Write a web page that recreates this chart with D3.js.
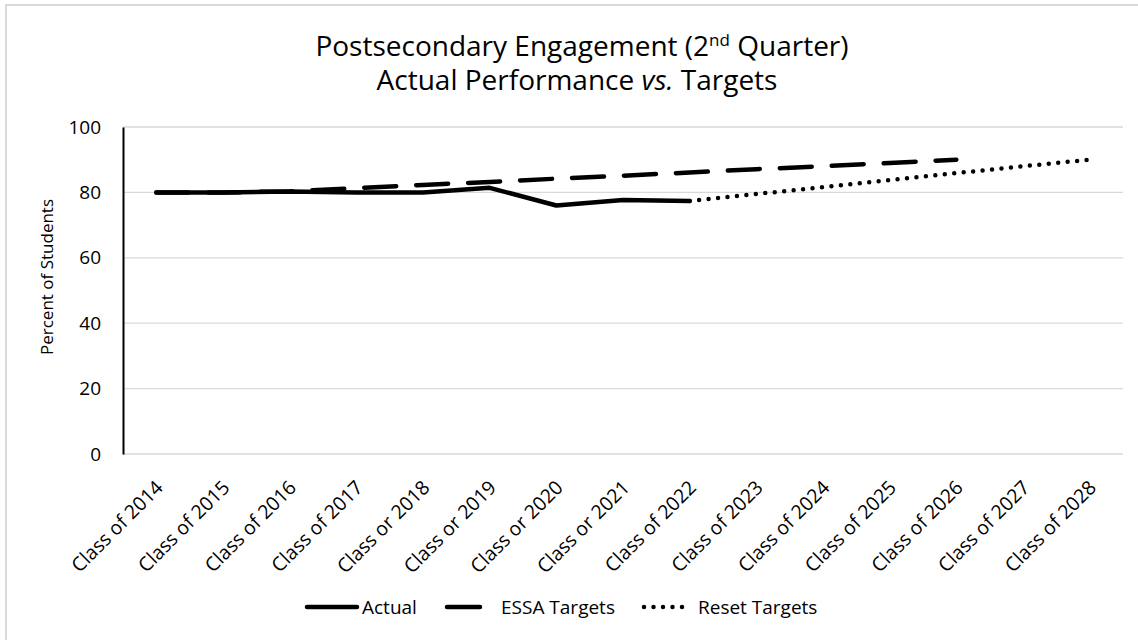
<!DOCTYPE html>
<html>
<head>
<meta charset="utf-8">
<script src="https://cdn.jsdelivr.net/npm/d3@7"></script>
<style>
  body { margin: 0; background: #fff; }
  svg, svg text { font-family: "Open Sans", "Noto Sans", sans-serif; }
</style>
</head>
<body>
<svg id="chart" width="1138" height="640"></svg>
<script>
// categories (labels kept as printed, including the "or" typos)
var classes = ["Class of 2014", "Class of 2015", "Class of 2016", "Class of 2017", "Class or 2018",
  "Class or 2019", "Class or 2020", "Class or 2021", "Class of 2022", "Class of 2023",
  "Class of 2024", "Class of 2025", "Class of 2026", "Class of 2027", "Class of 2028"];

var actual = [80.0, 80.0, 80.3, 80.0, 80.0, 81.4, 76.0, 77.7, 77.4];
var essaTargets = [80.0, 80.0, 80.3, 81.3, 82.3, 83.2, 84.2, 85.1, 86.1, 87.1, 88.0, 89.0, 90.0];
var resetTargets = [null, null, null, null, null, null, null, null, 77.4, 79.5, 81.6, 83.8, 85.9, 88.0, 90.0];
var yTicks = [0, 20, 40, 60, 80, 100];

var svg = d3.select("#chart");
var plotLeft = 123, plotRight = 1123, plotTop = 127, plotBottom = 454;

// chart border (only top/left visible in frame)
svg.append("rect").attr("x", 6).attr("y", 5).attr("width", 1150).attr("height", 650)
  .attr("fill", "none").attr("stroke", "#d9d9d9").attr("stroke-width", 2);

var x = d3.scaleBand().domain(classes).range([plotLeft, plotRight]);
var y = d3.scaleLinear().domain([0, 100]).range([plotBottom, plotTop]);

// gridlines
svg.append("g").selectAll("line").data(yTicks).enter().append("line")
  .attr("x1", plotLeft).attr("x2", plotRight)
  .attr("y1", function(d){ return y(d); }).attr("y2", function(d){ return y(d); })
  .attr("stroke", "#d9d9d9").attr("stroke-width", 1.3);

// y axis
var yAxis = svg.append("g").attr("transform", "translate(" + plotLeft + ",0)")
  .call(d3.axisLeft(y).tickValues(yTicks).tickSize(0).tickPadding(22));
yAxis.attr("font-family", null);
yAxis.select(".domain").attr("stroke", "#000").attr("stroke-width", 2);
yAxis.selectAll("text").attr("font-size", 19).attr("fill", "#000");

// x axis labels (rotated)
var xAxis = svg.append("g").attr("transform", "translate(0," + plotBottom + ")")
  .call(d3.axisBottom(x).tickSize(0).tickPadding(0));
xAxis.attr("font-family", null);
xAxis.select(".domain").remove();
xAxis.selectAll("text")
  .attr("font-size", 19.5).attr("fill", "#000")
  .attr("text-anchor", "end")
  .attr("transform", "translate(3,30) rotate(-45)")
  .attr("x", 0).attr("y", 0).attr("dy", "0.35em");

// y axis title
svg.append("text").attr("transform", "translate(53,277) rotate(-90)")
  .attr("text-anchor", "middle").attr("font-size", 17).attr("fill", "#000")
  .text("Percent of Students");

// title
var title = svg.append("text").attr("text-anchor", "middle").attr("font-size", 28).attr("fill", "#000");
var t1 = title.append("tspan").attr("x", 582).attr("y", 56);
t1.append("tspan").text("Postsecondary Engagement (2");
t1.append("tspan").attr("font-size", 17).attr("dy", -10).text("nd");
t1.append("tspan").attr("dy", 10).text(" Quarter)");
var t2 = title.append("tspan").attr("x", 577).attr("y", 90);
t2.append("tspan").text("Actual Performance ");
t2.append("tspan").attr("font-style", "italic").text("vs.");
t2.append("tspan").text(" Targets");

var line = d3.line()
  .defined(function(d){ return d != null; })
  .x(function(d, i){ return x(classes[i]) + x.bandwidth() / 2; })
  .y(function(d){ return y(d); });

var styles = {
  actual: { dash: null, width: 4.5 },
  essa: { dash: "32,20", width: 4.5 },
  reset: { dash: "0,9.5", width: 4.5 }
};

svg.append("path").datum(resetTargets).attr("d", line)
  .attr("fill", "none").attr("stroke", "#000").attr("stroke-width", styles.reset.width)
  .attr("stroke-linecap", "round").attr("stroke-dasharray", styles.reset.dash);
svg.append("path").datum(essaTargets).attr("d", line)
  .attr("fill", "none").attr("stroke", "#000").attr("stroke-width", styles.essa.width)
  .attr("stroke-linecap", "round").attr("stroke-dasharray", styles.essa.dash);
svg.append("path").datum(actual).attr("d", line)
  .attr("fill", "none").attr("stroke", "#000").attr("stroke-width", styles.actual.width)
  .attr("stroke-linecap", "round").attr("stroke-linejoin", "round");

// legend
var legend = [
  { name: "Actual", key: "actual", x1: 307, x2: 357, tx: 362 },
  { name: "ESSA Targets", key: "essa", x1: 447, x2: 480, tx: 501 },
  { name: "Reset Targets", key: "reset", x1: 644, x2: 690, tx: 698 }
];
var lg = svg.append("g");
legend.forEach(function(l){
  lg.append("line").attr("x1", l.x1).attr("x2", l.x2).attr("y1", 607).attr("y2", 607)
    .attr("stroke", "#000").attr("stroke-width", styles[l.key].width)
    .attr("stroke-linecap", "round")
    .attr("stroke-dasharray", l.key === "essa" ? null : styles[l.key].dash);
  lg.append("text").attr("x", l.tx).attr("y", 607).attr("dy", "0.35em")
    .attr("font-size", 19).attr("fill", "#000").text(l.name);
});
</script>
</body>
</html>
